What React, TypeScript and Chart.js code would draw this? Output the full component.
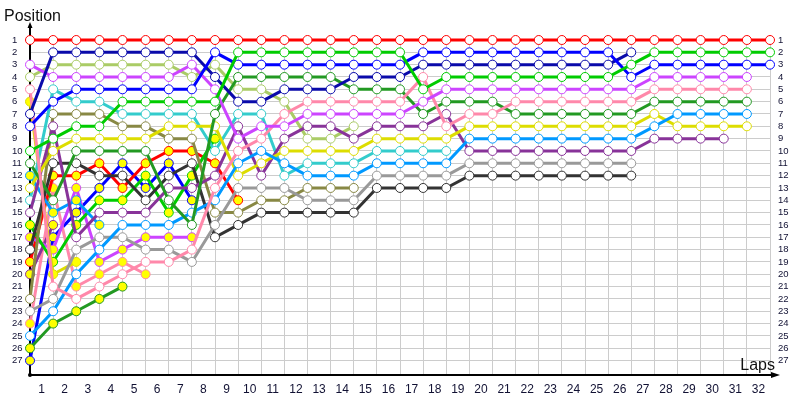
import { useEffect, useRef } from "react";
import { Chart, registerables } from "chart.js";

Chart.register(...registerables);

const LAPS = [0, 1, 2, 3, 4, 5, 6, 7, 8, 9, 10, 11, 12, 13, 14, 15, 16, 17, 18, 19, 20, 21, 22, 23, 24, 25, 26, 27, 28, 29, 30, 31, 32];
const POSITIONS = [1, 2, 3, 4, 5, 6, 7, 8, 9, 10, 11, 12, 13, 14, 15, 16, 17, 18, 19, 20, 21, 22, 23, 24, 25, 26, 27];

// positions per lap, index = lap (0 = grid)
const RED = [1, 1, 1, 1, 1, 1, 1, 1, 1, 1, 1, 1, 1, 1, 1, 1, 1, 1, 1, 1, 1, 1, 1, 1, 1, 1, 1, 1, 1, 1, 1, 1, 1];
const GREEN = [10, 9, 8, 8, 6, 6, 6, 6, 6, 2, 2, 2, 2, 2, 2, 2, 2, 5, 4, 4, 4, 4, 4, 4, 4, 4, 3, 2, 2, 2, 2, 2, 2];
const BLUE = [8, 6, 5, 5, 5, 5, 5, 5, 2, 3, 3, 3, 3, 3, 3, 3, 3, 2, 2, 2, 2, 2, 2, 2, 2, 2, 4, 3, 3, 3, 3, 3, 3];
const NAVY = [7, 2, 2, 2, 2, 2, 2, 2, 4, 6, 6, 5, 5, 5, 4, 4, 4, 3, 3, 3, 3, 3, 3, 3, 3, 3, 2];
const VIOLET = [3, 4, 4, 4, 4, 4, 4, 3, 5, 9, 8, 8, 7, 7, 7, 7, 7, 6, 5, 5, 5, 5, 5, 5, 5, 5, 5, 4, 4, 4, 4, 4];
const PINK = [5, 21, 22, 21, 20, 19, 19, 18, 13, 10, 9, 7, 6, 6, 6, 6, 6, 4, 8, 7, 7, 6, 6, 6, 6, 6, 6, 5, 5, 5, 5, 5];
const DARKGREEN = [11, 14, 10, 10, 10, 10, 14, 16, 7, 4, 4, 4, 4, 4, 5, 5, 5, 7, 6, 6, 6, 7, 7, 7, 7, 7, 7, 6, 6, 6, 6, 6];
const LIGHTBLUE = [25, 23, 20, 18, 16, 16, 16, 15, 14, 11, 10, 11, 12, 12, 12, 11, 11, 11, 11, 9, 9, 9, 9, 9, 9, 9, 9, 8, 7, 7, 7, 7];
const YELLOW = [13, 10, 9, 9, 9, 9, 8, 8, 8, 12, 11, 10, 10, 10, 10, 9, 9, 9, 9, 8, 8, 8, 8, 8, 8, 8, 8, 7, 8, 8, 8, 8];
const PURPLE = [15, 8, 17, 15, 15, 15, 13, 13, 12, 8, 12, 9, 8, 8, 9, 8, 8, 8, 7, 10, 10, 10, 10, 10, 10, 10, 10, 9, 9, 9, 9];
const GRAY = [23, 22, 18, 17, 17, 18, 18, 19, 16, 13, 13, 13, 14, 14, 14, 12, 12, 12, 12, 11, 11, 11, 11, 11, 11, 11, 11];
const BLACK = [18, 11, 11, 12, 12, 14, 12, 11, 17, 16, 15, 15, 15, 15, 15, 13, 13, 13, 13, 12, 12, 12, 12, 12, 12, 12, 12];
const CYAN = [14, 5, 6, 6, 7, 7, 7, 7, 10, 7, 7, 12, 11, 11, 11, 10, 10, 10, 10];
const OLIVE = [22, 7, 7, 7, 8, 8, 9, 9, 15, 15, 14, 14, 13, 13, 13];
const LIGHTGREEN = [4, 3, 3, 3, 3, 3, 3, 4, 3, 5, 5, 6, 9, 9, 8];

const YELLOW_2 = [6, 20, 19];
const LIGHTBLUE_2 = [12, 15, 14, 16];
const GREEN_2 = [16, 19, 16, 14, 14, 12, 15, 12, 9];
const VIOLET_2 = [17, 18, 13, 19, 18, 17, 17, 17];
const RED_2 = [19, 12, 12, 11, 13, 11, 10, 10, 11, 14];
const PURPLE_2 = [20, 16];
const PINK_2 = [24, 13, 21, 20, 19, 20];
const DARKGREEN_2 = [26, 24, 23, 22, 21];
const BLUE_2 = [27, 17, 15, 13, 11, 13, 11, 14];

const WHITE = "#ffffff";
const YEL = "#ffff00";

const DRIVERS = [
  { label: "Red", color: "#ff0000", fill: WHITE, pos: RED },
  { label: "Green", color: "#00cc00", fill: WHITE, pos: GREEN },
  { label: "Blue", color: "#0000ff", fill: WHITE, pos: BLUE },
  { label: "Navy", color: "#0a0aaa", fill: WHITE, pos: NAVY },
  { label: "Violet", color: "#cc44ff", fill: WHITE, pos: VIOLET },
  { label: "Pink", color: "#ff88aa", fill: WHITE, pos: PINK },
  { label: "Dark green", color: "#229922", fill: WHITE, pos: DARKGREEN },
  { label: "Light blue", color: "#0099ff", fill: WHITE, pos: LIGHTBLUE },
  { label: "Yellow", color: "#dddd00", fill: WHITE, pos: YELLOW },
  { label: "Purple", color: "#883399", fill: WHITE, pos: PURPLE },
  { label: "Gray", color: "#999999", fill: WHITE, pos: GRAY },
  { label: "Black", color: "#333333", fill: WHITE, pos: BLACK },
  { label: "Cyan", color: "#33cccc", fill: WHITE, pos: CYAN },
  { label: "Olive", color: "#888844", fill: WHITE, pos: OLIVE },
  { label: "Light green", color: "#aacc66", fill: WHITE, pos: LIGHTGREEN },
  { label: "Yellow 2", color: "#dddd00", fill: YEL, pos: YELLOW_2 },
  { label: "Light blue 2", color: "#0099ff", fill: YEL, pos: LIGHTBLUE_2 },
  { label: "Green 2", color: "#00cc00", fill: YEL, pos: GREEN_2 },
  { label: "Violet 2", color: "#cc44ff", fill: YEL, pos: VIOLET_2 },
  { label: "Red 2", color: "#ff0000", fill: YEL, pos: RED_2 },
  { label: "Purple 2", color: "#883399", fill: YEL, pos: PURPLE_2 },
  { label: "Pink 2", color: "#ff88aa", fill: YEL, pos: PINK_2 },
  { label: "Dark green 2", color: "#229922", fill: YEL, pos: DARKGREEN_2 },
  { label: "Blue 2", color: "#0000ff", fill: YEL, pos: BLUE_2 },
];

const FONT = "'Liberation Sans', Arial, sans-serif";
const TICK_COLOR = "#111133";

const axesPlugin = {
  id: "lapAxes",
  beforeDatasetsDraw(chart: any) {
    const { ctx, chartArea } = chart;
    const l = chartArea.left;
    const b = chartArea.bottom;
    ctx.save();
    ctx.strokeStyle = "#000";
    ctx.fillStyle = "#000";
    ctx.lineWidth = 2;
    ctx.beginPath();
    ctx.moveTo(l, 26);
    ctx.lineTo(l, b + 1);
    ctx.moveTo(l - 1, b);
    ctx.lineTo(chartArea.right + 4, b);
    ctx.stroke();
    // arrows
    ctx.beginPath();
    ctx.moveTo(l, 22);
    ctx.lineTo(l - 2.5, 28);
    ctx.lineTo(l + 2.5, 28);
    ctx.closePath();
    ctx.fill();
    ctx.beginPath();
    ctx.moveTo(chartArea.right + 10, b);
    ctx.lineTo(chartArea.right + 1, b - 3);
    ctx.lineTo(chartArea.right + 1, b + 3);
    ctx.closePath();
    ctx.fill();
    ctx.beginPath();
    ctx.arc(l, b, 2, 0, Math.PI * 2);
    ctx.fill();
    ctx.restore();
  },
  afterDraw(chart: any) {
    const { ctx } = chart;
    ctx.save();
    ctx.fillStyle = "#111";
    ctx.font = `16px ${FONT}`;
    ctx.textBaseline = "alphabetic";
    ctx.textAlign = "left";
    ctx.fillText("Position", 4, 21);
    ctx.textAlign = "right";
    ctx.fillText("Laps", 775, 370);
    ctx.restore();
  },
};

export default function App() {
  const ref = useRef<HTMLCanvasElement>(null);

  useEffect(() => {
    const yTicks = {
      autoSkip: false,
      color: TICK_COLOR,
      font: { size: 9.5, family: FONT },
    };
    const chart = new Chart(ref.current as HTMLCanvasElement, {
      type: "line",
      data: {
        datasets: DRIVERS.map((d) => ({
          label: d.label,
          data: d.pos.map((p, i) => ({ x: LAPS[i], y: p })),
          borderColor: d.color,
          backgroundColor: d.fill,
          pointBackgroundColor: d.fill,
          pointBorderColor: d.color,
          pointBorderWidth: 1,
          pointRadius: 4.5,
          borderWidth: 3,
          tension: 0,
          clip: false as any,
        })),
      },
      options: {
        responsive: false,
        animation: false,
        layout: { padding: { left: 12, top: 40, right: 0, bottom: 0 } },
        plugins: { legend: { display: false }, tooltip: { enabled: false } },
        scales: {
          x: {
            type: "linear",
            min: 0,
            max: 32,
            afterBuildTicks: (a: any) => {
              a.ticks = LAPS.map((v) => ({ value: v }));
            },
            afterFit: (s: any) => {
              s.height = 25;
            },
            grid: { color: "#cccccc", drawTicks: false },
            border: { display: false },
            ticks: {
              labelOffset: -11.56,
              padding: 7,
              autoSkip: false,
              maxRotation: 0,
              color: TICK_COLOR,
              font: { size: 12, family: FONT },
              callback: (v: any) => (v === 0 ? "" : String(v)),
            },
          },
          y: {
            type: "linear",
            position: "left",
            reverse: true,
            min: 1,
            max: 28.17,
            afterBuildTicks: (a: any) => {
              a.ticks = POSITIONS.map((v) => ({ value: v }));
            },
            afterFit: (s: any) => {
              s.width = 18;
            },
            grid: { color: "#cccccc", drawTicks: false },
            border: { display: false },
            ticks: { ...yTicks, crossAlign: "far", padding: 0 },
          },
          y2: {
            type: "linear",
            position: "right",
            reverse: true,
            min: 1,
            max: 28.17,
            afterBuildTicks: (a: any) => {
              a.ticks = POSITIONS.map((v) => ({ value: v }));
            },
            afterFit: (s: any) => {
              s.width = 30;
            },
            grid: { display: false, drawTicks: false },
            border: { display: false },
            ticks: { ...yTicks, crossAlign: "near", padding: 8 },
          },
        },
      } as any,
      plugins: [axesPlugin],
    });
    return () => chart.destroy();
  }, []);

  return (
    <canvas
      ref={ref}
      width={800}
      height={400}
      style={{ position: "fixed", left: 0, top: 0, display: "block", background: "#fff" }}
    />
  );
}
